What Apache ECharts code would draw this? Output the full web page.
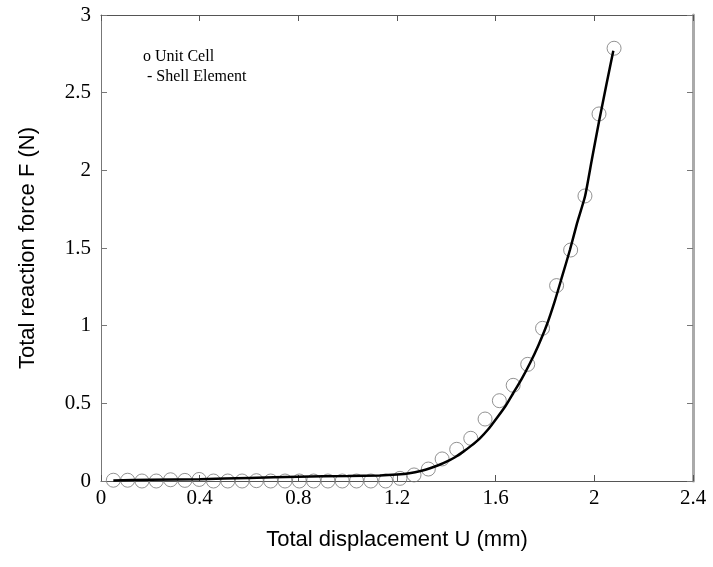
<!DOCTYPE html>
<html>
<head>
<meta charset="utf-8">
<script src="https://cdn.jsdelivr.net/npm/echarts@6/dist/echarts.min.js"></script>
<style>html,body{margin:0;padding:0;background:#fff}#c{width:713px;height:567px}</style>
</head>
<body>
<div id="c"></div>
<script>
// Unit Cell (circles)
var cellX = [0.05,0.108,0.166,0.224,0.282,0.34,0.398,0.456,0.514,0.572,0.63,0.688,0.746,0.804,0.862,0.92,0.978,1.036,1.094,1.154,
             1.212,1.269,1.327,1.383,1.442,1.499,1.557,1.615,1.671,1.730,1.790,1.847,1.904,1.962,2.019,2.080];
var cellY = [0.005,0.005,0,0,0.008,0.004,0.01,0,0,0,0.002,0,0,0,0,0,0,0,0,0,
             0.017,0.039,0.077,0.142,0.204,0.275,0.399,0.517,0.616,0.751,0.983,1.258,1.487,1.835,2.363,2.786];
// Shell Element (line)
var shellX = [0.05,0.2,0.4,0.6,0.8,1.0,1.13,1.2,1.25,1.3,1.334,1.37,1.401,1.435,1.469,1.5,1.536,1.57,1.604,1.64,1.671,1.705,1.739,1.773,1.807,1.84,1.87,1.901,1.93,1.962,1.99,2.019,2.05,2.077];
var shellY = [0.004,0.008,0.012,0.02,0.028,0.032,0.036,0.042,0.05,0.066,0.082,0.103,0.124,0.153,0.189,0.226,0.275,0.333,0.404,0.483,0.565,0.656,0.758,0.873,1.004,1.16,1.32,1.487,1.66,1.831,2.07,2.314,2.56,2.77];
var xTicks = [0,0.4,0.8,1.2,1.6,2,2.4];
var yTicks = [0,0.5,1,1.5,2,2.5,3];
var legendText = ['o Unit Cell', ' - Shell Element'];
var xTitle = 'Total displacement U (mm)';
var yTitle = 'Total reaction force F (N)';

var cellData = cellX.map(function(x,i){return [x, cellY[i]];});
var shellData = shellX.map(function(x,i){return [x, shellY[i]];});
var serif = 'Liberation Serif, Times New Roman, serif';
var sans = 'Liberation Sans, Arial, sans-serif';

var chart = echarts.init(document.getElementById('c'));
chart.setOption({
  animation:false,
  backgroundColor:'#fff',
  grid:{left:101,right:20,top:15,bottom:86,containLabel:false},
  xAxis:[{
    type:'value',min:0,max:2.4,interval:0.4,
    name:xTitle,nameLocation:'middle',nameGap:48,
    nameTextStyle:{fontFamily:sans,fontSize:22,color:'#000'},
    axisLine:{show:true,onZero:false,lineStyle:{color:'#555',width:1}},
    axisTick:{show:true,inside:true,length:6,lineStyle:{color:'#555'}},
    axisLabel:{fontFamily:serif,fontSize:21,color:'#000',margin:7,
      formatter:function(v){var i=xTicks.indexOf(+v.toFixed(1));return i>=0?String(xTicks[i]):'';}},
    splitLine:{show:false}
  },{
    type:'value',min:0,max:2.4,interval:0.4,position:'top',
    axisLine:{show:true,onZero:false,lineStyle:{color:'#555',width:1}},
    axisTick:{show:true,inside:true,length:6,lineStyle:{color:'#555'}},
    axisLabel:{show:false},splitLine:{show:false}
  }],
  yAxis:[{
    type:'value',min:0,max:3,interval:0.5,
    name:yTitle,nameLocation:'middle',nameGap:62,
    nameTextStyle:{fontFamily:sans,fontSize:22,color:'#000'},
    axisLine:{show:true,onZero:false,lineStyle:{color:'#777',width:1}},
    axisTick:{show:true,inside:true,length:6,lineStyle:{color:'#777'}},
    axisLabel:{fontFamily:serif,fontSize:21,color:'#000',margin:10,
      formatter:function(v){var i=yTicks.indexOf(+v.toFixed(1));return i>=0?String(yTicks[i]):'';}},
    splitLine:{show:false}
  },{
    type:'value',min:0,max:3,interval:0.5,position:'right',
    axisLine:{show:true,onZero:false,lineStyle:{color:'#aaa',width:3}},
    axisTick:{show:true,inside:true,length:6,lineStyle:{color:'#777'}},
    axisLabel:{show:false},splitLine:{show:false}
  }],
  series:[{
    name:'Unit Cell',type:'scatter',data:cellData,symbol:'circle',symbolSize:14,
    itemStyle:{color:'rgba(255,255,255,0)',borderColor:'#777',borderWidth:1},
    z:2
  },{
    name:'Shell Element',type:'line',data:shellData,smooth:0.2,showSymbol:false,
    lineStyle:{color:'#000',width:2.5},z:3
  }],
  graphic:[
    {type:'text',left:143,top:49,style:{text:legendText[0],font:'16px '+serif,fill:'#000'}},
    {type:'text',left:143,top:69,style:{text:legendText[1],font:'16px '+serif,fill:'#000'}}
  ]
});
</script>
</body>
</html>
